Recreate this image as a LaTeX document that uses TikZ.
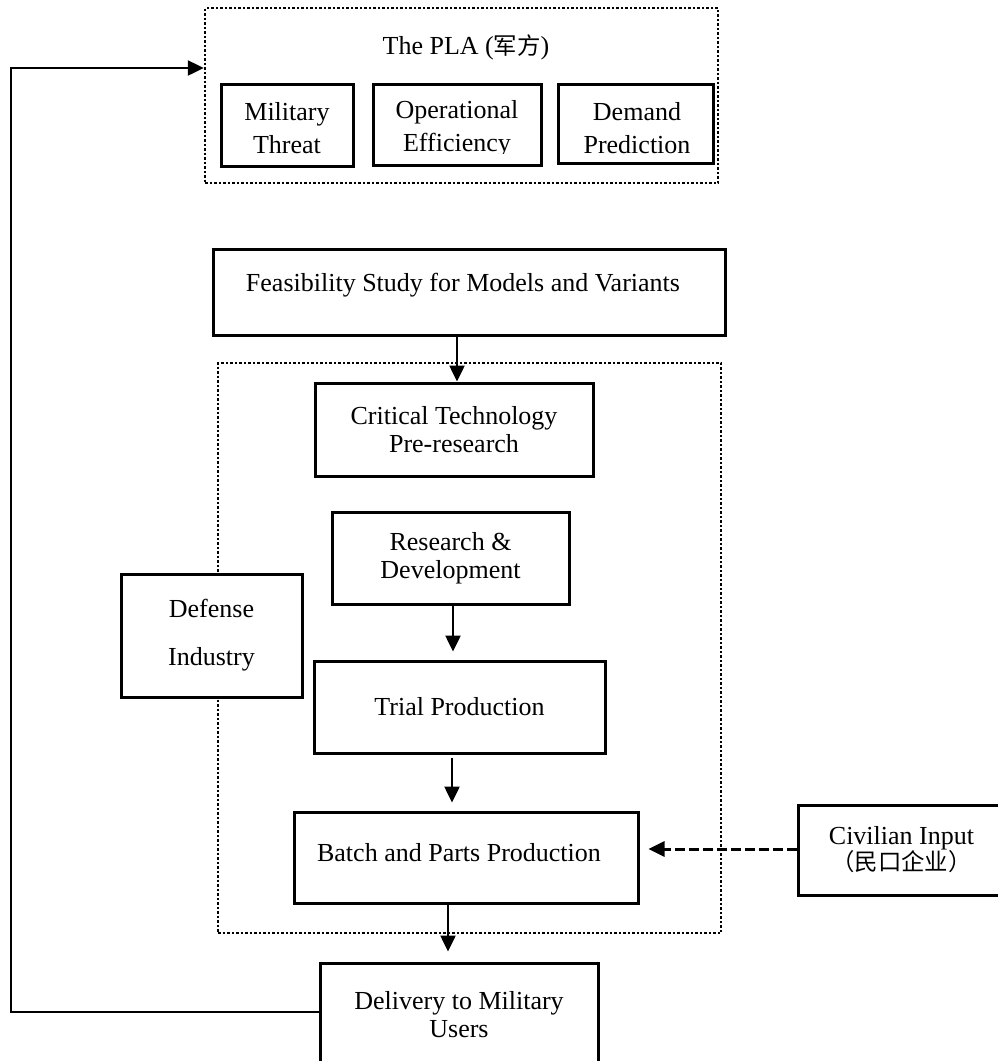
\documentclass[tikz,border=0pt]{standalone}
\usepackage{fontspec}
\setmainfont{Liberation Serif}
\newfontfamily\cjk[Scale=0.9]{Noto Sans CJK SC}
\usetikzlibrary{arrows.meta}
\begin{document}
\begin{tikzpicture}[x=1pt,y=-1pt,
  box/.style={draw, line width=3pt, fill=white, inner sep=0pt, align=center, font=\fontsize{26}{28}\selectfont},
  txt/.style={inner sep=0pt, align=center, font=\fontsize{26}{28}\selectfont},
  grp/.style={draw, line width=2.5pt, dash pattern=on 2.5pt off 2pt, inner sep=0pt},
  arr/.style={line width=2.5pt, -{Triangle[length=16pt,width=15pt]}},
  darr/.style={line width=3pt, dash pattern=on 10pt off 4pt, -{Triangle[length=16pt,width=15pt]}}]
\useasboundingbox (0,0) rectangle (997,1061);
\fill[white] (0,0) rectangle (997,1061);

% PLA group
\node[grp, minimum width=513pt, minimum height=175pt] (pla) at (461.5,95.5) {};
\node[txt] (plat) at (466,47) {The PLA ({\cjk 军方})};
\node[box, minimum width=132pt, minimum height=82pt] (mt) at (287,125) {};
\node[box, minimum width=168pt, minimum height=81pt] (oe) at (457,124.5) {};
\node[box, minimum width=155pt, minimum height=79pt] (dp) at (635.5,123.5) {};
\begin{scope}
  \clip (205,84) rectangle (720,153);
  \node[txt, font=\fontsize{26}{33}\selectfont] (mtt) at (287,128.5) {Military\\Threat};
  \node[txt, font=\fontsize{26}{33}\selectfont] (oet) at (457,128.5) {Operational\\Efficiency};
  \node[txt, font=\fontsize{26}{33}\selectfont] (dpt) at (637,128.5) {Demand\\Prediction};
\end{scope}

% Feasibility
\node[box, minimum width=512pt, minimum height=86pt] (feas) at (469,292) {};
\node[txt] (feast) at (463,285) {Feasibility Study for Models and Variants};

% Defense industry group
\node[grp, minimum width=503pt, minimum height=570pt] (ind) at (469.5,648) {};
\node[box, minimum width=181pt, minimum height=123pt, font=\fontsize{26}{48}\selectfont] (defn) at (211.5,635.5) {Defense\\Industry};

\node[box, minimum width=278pt, minimum height=93pt] (crit) at (454,429.5) {Critical Technology\\Pre-research};
\node[box, minimum width=237pt, minimum height=92pt] (rd) at (450.5,558) {Research \&\\Development};
\node[box, minimum width=291pt, minimum height=92pt] (trial) at (459.5,707) {Trial Production};
\node[box, minimum width=344pt, minimum height=91pt] (batch) at (466,857.5) {};
\node[txt] (batcht) at (459,853) {Batch and Parts Production};

% Civilian
\node[box, minimum width=207pt, minimum height=90pt, font=\fontsize{26}{26}\selectfont] (civ) at (901.5,850) {Civilian Input\\{\cjk （民口企业）}};

% Delivery
\node[box, minimum width=278pt, minimum height=103pt] (deliv) at (459,1014.5) {Delivery to Military\\Users};

% connectors
\coordinate (a1) at (457,0);
\draw[arr] (a1 |- feas.south) -- (a1 |- crit.north);
\coordinate (a2) at (453,0);
\draw[arr, shorten >=8pt] (a2 |- rd.south) -- (a2 |- trial.north);
\coordinate (a3) at (452,0);
\draw[arr, shorten <=3pt, shorten >=8pt] (a3 |- trial.south) -- (a3 |- batch.north);
\coordinate (a4) at (448,0);
\draw[arr, shorten >=10pt] (a4 |- batch.south) -- (a4 |- deliv.north);
\coordinate (a5) at (0,849);
\draw[darr, shorten >=9pt] (a5 -| civ.west) -- (a5 -| batch.east);
\coordinate (c1) at (11,1012);
\coordinate (c2) at (11,68);
\draw[arr] (c1 -| deliv.west) -- (c1) -- (c2) -- (c2 -| pla.west);
\end{tikzpicture}
\end{document}
